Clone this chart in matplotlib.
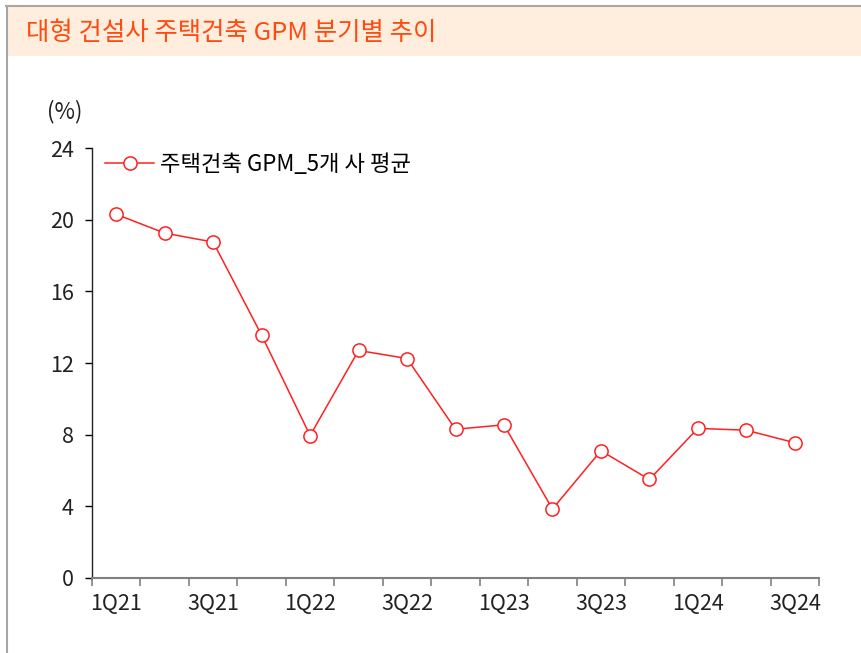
import matplotlib.pyplot as plt
import matplotlib.patches as patches
from matplotlib.lines import Line2D

plt.rcParams['font.family'] = ['Noto Sans CJK KR', 'DejaVu Sans']

# 데이터
quarters = ["1Q21", "2Q21", "3Q21", "4Q21", "1Q22", "2Q22", "3Q22", "4Q22",
            "1Q23", "2Q23", "3Q23", "4Q23", "1Q24", "2Q24", "3Q24"]
gpm = [20.3, 19.25, 18.75, 13.55, 7.95, 12.7, 12.25, 8.3,
       8.55, 3.85, 7.1, 5.5, 8.35, 8.25, 7.55]
yticks = [0, 4, 8, 12, 16, 20, 24]

title = "대형 건설사 주택건축 GPM 분기별 추이"
series_name = "주택건축 GPM_5개 사 평균"
red = "#FF2020"
dark = "#222222"

fig = plt.figure(figsize=(8.62, 6.53), dpi=100)

# 제목 띠와 왼쪽 테두리
fig.patches.append(patches.Rectangle((7 / 862, 1 - 56 / 653), 1, 49 / 653,
                                     transform=fig.transFigure,
                                     facecolor="#FFEEDD", edgecolor="none"))
fig.add_artist(Line2D([6 / 862, 1], [1 - 6 / 653] * 2, color="#A6A6A6", lw=1.5))
fig.add_artist(Line2D([7.5 / 862] * 2, [0, 1 - 6 / 653], color="#A6A6A6", lw=1.5))
fig.text(26 / 862, 1 - 33 / 653, title, color="#FF4A10", fontsize=18.3,
         va="center", ha="left")

ax = fig.add_axes([92 / 862, 75 / 653, (819 - 92) / 862, (578 - 148) / 653])
x = list(range(len(quarters)))
ax.plot(x, gpm, color=red, lw=1.1, marker="o", markersize=9.5,
        markerfacecolor="white", markeredgecolor=red, markeredgewidth=1.1,
        label=series_name)

ax.set_xlim(-0.5, len(quarters) - 0.5)
ax.set_ylim(0, 24)
ax.set_yticks(yticks)
ax.set_yticklabels([str(v) for v in yticks])

# 카테고리 경계마다 눈금, 라벨은 한 분기 건너
ax.set_xticks([i - 0.5 for i in range(len(quarters) + 1)])
ax.set_xticklabels([])
ax.set_xticks(x[::2], minor=True)
ax.set_xticklabels(quarters[::2], minor=True)
ax.tick_params(axis="x", which="minor", length=0, pad=11, labelsize=15.5, labelcolor=dark)
ax.tick_params(axis="x", which="major", length=6, color="#808080", width=1.2)
ax.tick_params(axis="y", length=5, width=1, labelsize=15.5, labelcolor=dark, pad=8)

for s in ["top", "right"]:
    ax.spines[s].set_visible(False)
ax.spines["bottom"].set_color("#808080")
ax.spines["bottom"].set_linewidth(1.5)
ax.spines["left"].set_color(dark)
ax.spines["left"].set_linewidth(1.0)

fig.text(47 / 862, 1 - 112 / 653, "(%)", fontsize=16, color=dark, va="center")

ax.legend(loc="upper left", bbox_to_anchor=(0.006, 1.01), frameon=False,
          fontsize=16, handlelength=2.2, handletextpad=0.25, borderaxespad=0.0)

fig.savefig("out.png", dpi=100)
